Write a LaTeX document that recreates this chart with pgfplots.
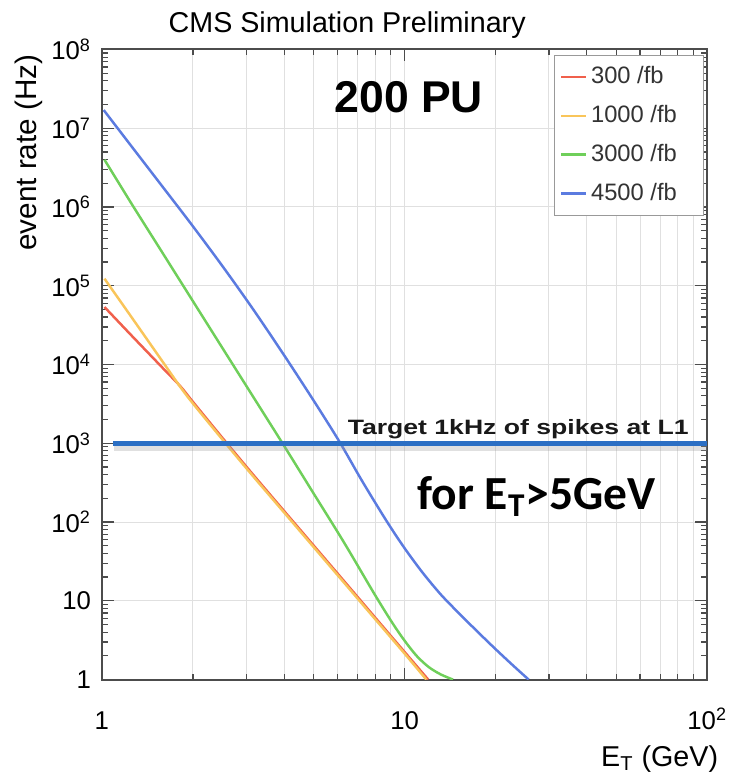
\documentclass[border=0pt]{standalone}
\usepackage{fontspec}
\setmainfont{Liberation Sans}
\newfontfamily\calibri{Carlito}
\usepackage{pgfplots}
\pgfplotsset{compat=1.18}

\definecolor{cRed}{HTML}{F0604C}
\definecolor{cOrange}{HTML}{F9C55A}
\definecolor{cGreen}{HTML}{6FCF5A}
\definecolor{cBlue}{HTML}{5B7BE0}
\definecolor{cTarget}{HTML}{2B6FC4}

\newcommand{\fs}[1]{\fontsize{#1}{1.2\dimexpr#1\relax}\selectfont}

\begin{document}
\begin{tikzpicture}
\begin{axis}[
    name=ax,
    scale only axis,
    width=306bp, height=318.5bp,
    xmode=log, ymode=log,
    xmin=1, xmax=100, ymin=1, ymax=1e8,
    axis line style={black!70, line width=1bp},
    tick style={black!70, line width=0.6bp},
    major tick length=6bp, minor tick length=3bp,
    tick align=inside,
    xtick={1,10,100},
    xticklabels={1,10,10\textsuperscript{2}},
    ytick={1,10,100,1000,10000,100000,1000000,10000000,100000000},
    yticklabels={1,10,10\textsuperscript{2},10\textsuperscript{3},10\textsuperscript{4},
                 10\textsuperscript{5},10\textsuperscript{6},10\textsuperscript{7},10\textsuperscript{8}},
    ticklabel style={font=\fs{13bp}},
    xticklabel style={anchor=base, yshift=-25bp},
    yticklabel style={xshift=-2bp},
    xmajorgrids, xminorgrids, ymajorgrids,
    major grid style={black!12, line width=0.5bp},
    minor grid style={black!12, line width=0.5bp},
    xlabel={E\textsubscript{T} (GeV)},
    ylabel={event rate (Hz)},
    xlabel style={at={(axis description cs:1,-0.138)}, anchor=base east, xshift=9bp, font=\fs{14.5bp}},
    ylabel style={at={(axis description cs:-0.121,1.003)}, anchor=east, font=\fs{15bp}},
    legend style={at={(rel axis cs:0.995,0.992)}, anchor=north east,
                  draw=black!40, fill=white, font=\fs{12bp}, text=black!80,
                  row sep=5.5bp, inner xsep=3bp, inner ysep=4bp},
    legend cell align=left,
    legend image code/.code={\draw[#1, line width=1.25bp] (0bp,0bp) -- (12.5bp,0bp);},
]

% 300 /fb
\addplot[cRed, line width=1.25bp, smooth] coordinates {
    (1.02,53700) (1.259,22900) (1.585,9120) (1.82,5250) (1.995,3390) (2.512,1148)
    (3.162,398) (3.981,141) (5.012,50.1) (6.31,17.8) (7.943,6.31) (10,2.24) (11.97,1)
};
\addlegendentry{\makebox[52bp][l]{300 /fb}}

% 1000 /fb
\addplot[cOrange, line width=1.25bp, smooth] coordinates {
    (1.02,123000) (1.259,38900) (1.585,10960) (1.82,5130) (1.995,3236) (2.512,1096)
    (3.162,380) (3.981,135) (5.012,47.9) (6.31,17.0) (7.943,6.03) (10,2.14) (11.8,1)
};
\addlegendentry{1000 /fb}

% 3000 /fb
\addplot[cGreen, line width=1.25bp, smooth] coordinates {
    (1.02,3980000) (1.259,1070000) (1.585,263000) (1.995,64600) (2.512,15800)
    (3.162,3890) (3.981,955) (5.012,229) (6.31,55.0) (7.943,12.3) (9.12,5.22)
    (10,3.12) (10.96,2.0) (12.02,1.44) (13.18,1.16) (14.45,1)
};
\addlegendentry{3000 /fb}

% 4500 /fb
\addplot[cBlue, line width=1.25bp, smooth] coordinates {
    (1.014,17000000) (1.259,5750000) (1.585,1820000) (1.995,575000) (2.512,174000)
    (3.162,50100) (3.981,13500) (5.012,3467) (6.095,1047) (7.244,331) (8.71,103.8)
    (10,46.6) (11.48,22.7) (13.18,12.0) (15.14,6.92) (17.38,4.09) (19.95,2.45)
    (22.91,1.49) (25.7,1)
};
\addlegendentry{4500 /fb}

% target line with its shadow
\addplot[black!40, opacity=0.3, line width=3bp, forget plot] coordinates {(1.1,860) (100,860)};
\addplot[cTarget, line width=2.5bp, forget plot] coordinates {(1.09,1000) (100,1000)};

% dark edge inside the legend box
\draw[black!85, line width=1.2bp] (rel axis cs:0.985,0.946) -- (rel axis cs:0.985,0.752);

\node[font=\bfseries\fs{22.5bp}] at (rel axis cs:0.507,0.925) {200 PU};
\node[font=\bfseries\fs{10.5bp}, anchor=base east, xscale=1.28, color=black!90]
    at (rel axis cs:0.984,0.389) {Target 1kHz of spikes at L1};
\node[font=\calibri\bfseries\fs{24bp}, anchor=base west]
    at (rel axis cs:0.51,0.27) {for E\textsubscript{T}>5GeV};
\end{axis}

\path (ax.north west) ++(124bp,8.5bp) node[anchor=base, font=\fs{14.5bp}] {CMS Simulation Preliminary};
\path (ax.south west) ++(-51.5bp,-46bp) rectangle ++(370.5bp,389.5bp);
\end{tikzpicture}
\end{document}
